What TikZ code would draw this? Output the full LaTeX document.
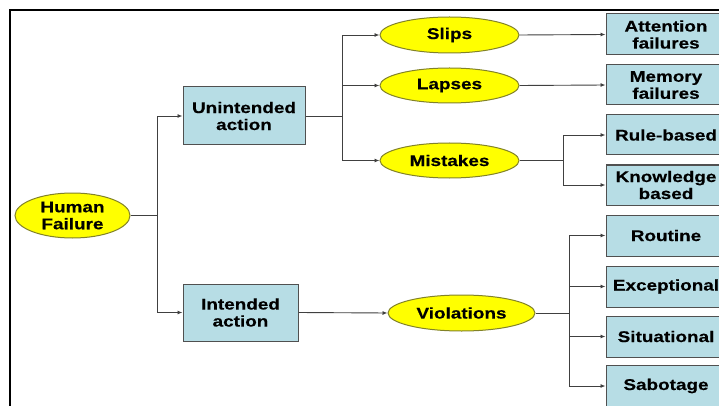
\documentclass[tikz,border=0pt]{standalone}
\usepackage{fontspec}
\setmainfont{Liberation Sans}[FakeStretch=1.22,BoldFeatures={FakeBold=0.4}]
\usetikzlibrary{shapes.geometric,arrows.meta}
\definecolor{boxfill}{RGB}{183,221,229}
\definecolor{boxline}{RGB}{80,80,80}
\definecolor{ellfill}{RGB}{255,255,0}
\definecolor{ellline}{RGB}{130,130,40}
\definecolor{conncol}{RGB}{64,64,64}
\begin{document}
\begin{tikzpicture}[x=1pt,y=-1pt,
  txt/.style={font=\fontsize{15.5}{17}\selectfont\bfseries,align=center,text=black,inner sep=0pt},
  bluebox/.style={txt,rectangle,draw=boxline,fill=boxfill,line width=1pt},
  yell/.style={txt,ellipse,draw=ellline,fill=ellfill,line width=1pt},
  conn/.style={draw=conncol,line width=0.9pt},
  arr/.style={conn,-{Latex[length=5pt,width=4pt]}}]
\useasboundingbox (0,0) rectangle (719,406);
\clip (0,0) rectangle (719,406);
\fill[white] (0,0) rectangle (719,406);
\draw[line width=2pt,black] (10,10) rectangle (740,430);
% level 0
\node[yell,minimum width=115pt,minimum height=45pt] (hf) at (72.5,215.5) {Human\\Failure};
% level 1
\node[bluebox,minimum width=122pt,minimum height=58pt] (ua) at (244,116) {Unintended\\action};
\node[bluebox,minimum width=115pt,minimum height=57pt] (ia) at (240.5,312.5) {Intended\\action};
% level 2
\node[yell,minimum width=139pt,minimum height=36pt] (slips) at (449.5,35) {Slips};
\node[yell,minimum width=139pt,minimum height=35pt] (lapses) at (449.5,85.5) {Lapses};
\node[yell,minimum width=139pt,minimum height=35pt] (mist) at (449.5,160.5) {Mistakes};
\node[yell,minimum width=147pt,minimum height=36pt] (viol) at (461.5,313) {Violations};
% level 3
\node[bluebox,minimum width=120pt,minimum height=41pt] (att) at (666,34.5) {Attention\\failures};
\node[bluebox,minimum width=120pt,minimum height=40pt] (mem) at (666,85) {Memory\\failures};
\node[bluebox,minimum width=120pt,minimum height=40pt] (rule) at (666,135) {Rule-based};
\node[bluebox,minimum width=120pt,minimum height=40pt] (know) at (666,185) {Knowledge\\based};
\node[bluebox,minimum width=120pt,minimum height=41pt] (rout) at (666,235.5) {Routine};
\node[bluebox,minimum width=120pt,minimum height=41pt] (exc) at (666,286.5) {Exceptional};
\node[bluebox,minimum width=120pt,minimum height=41pt] (sit) at (666,336.5) {Situational};
\node[bluebox,minimum width=120pt,minimum height=41pt] (sab) at (666,386) {Sabotage};
% junctions
\coordinate (j1) at (157,215.5);
\coordinate (j2) at (342,116);
\coordinate (j3) at (563,160.5);
\coordinate (j4) at (569,313);
% connectors
\draw[conn] (hf.east) -- (j1);
\draw[arr] (j1) |- (ua.west);
\draw[arr] (j1) |- (ia.west);
\draw[conn] (ua.east) -- (j2);
\draw[arr] (j2) |- (slips.west);
\draw[arr] (j2) |- (lapses.west);
\draw[arr] (j2) |- (mist.west);
\draw[arr] (ia.east) -- (viol.west);
\draw[arr] (slips.east) -- (att.west);
\draw[arr] (lapses.east) -- (mem.west);
\draw[conn] (mist.east) -- (j3);
\draw[arr] (j3) |- (rule.west);
\draw[arr] (j3) |- (know.west);
\draw[conn] (viol.east) -- (j4);
\draw[arr] (j4) |- (rout.west);
\draw[arr] (j4) |- (exc.west);
\draw[arr] (j4) |- (sit.west);
\draw[arr] (j4) |- (sab.west);
\end{tikzpicture}
\end{document}
